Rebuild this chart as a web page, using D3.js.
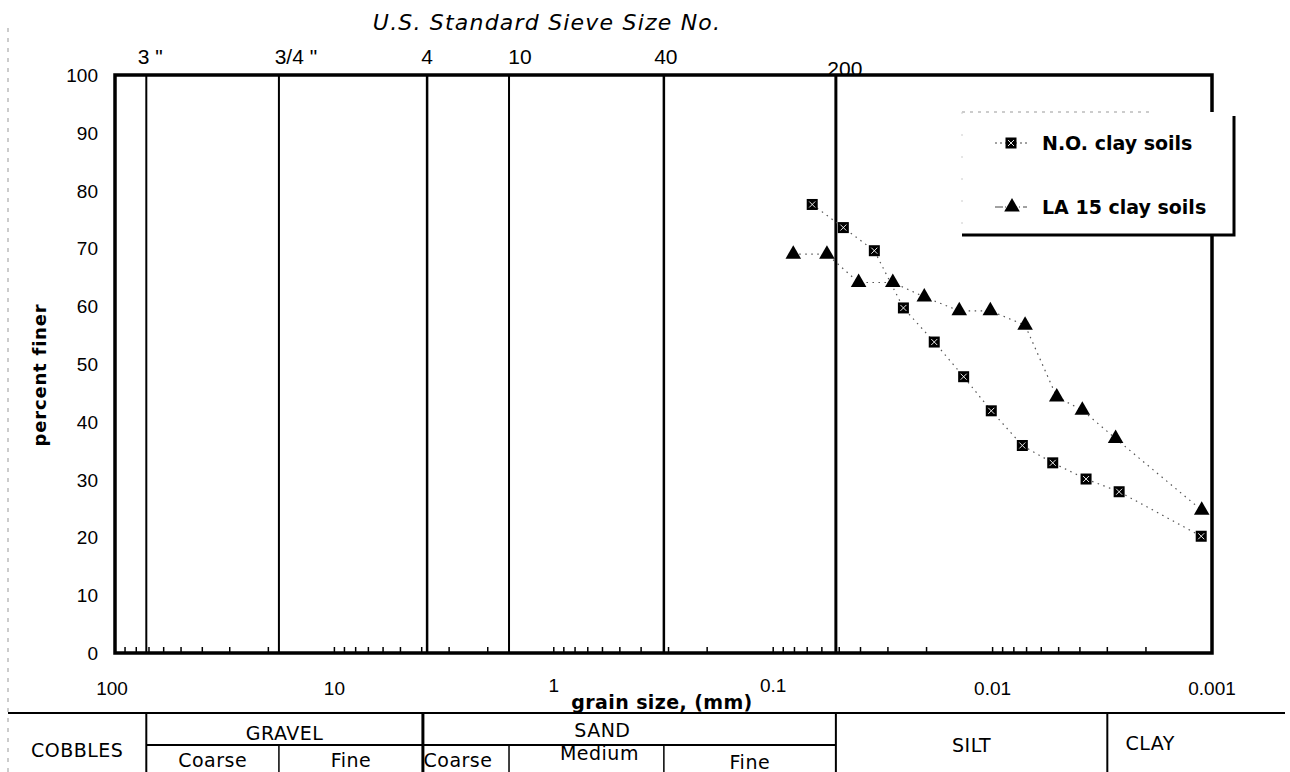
<!DOCTYPE html>
<html><head><meta charset="utf-8">
<script src="https://cdn.jsdelivr.net/npm/d3@7"></script>
<style>body{margin:0;background:#fff}svg{display:block}</style>
</head><body>
<svg id="chart" width="1290" height="772"></svg>
<script>
// ---------- data ----------
const seriesNames = ["N.O. clay soils", "LA 15 clay soils"];
const noSize   = [0.0664, 0.0479, 0.0346, 0.0255, 0.01845, 0.01355, 0.01014, 0.00732, 0.00532, 0.00375, 0.00265, 0.00112];
const noFiner  = [77.6, 73.6, 69.6, 59.7, 53.8, 47.8, 41.9, 35.9, 32.9, 30.1, 27.9, 20.2];
const laSize   = [0.0810, 0.0569, 0.0408, 0.0285, 0.02048, 0.01419, 0.01024, 0.00711, 0.00510, 0.00390, 0.00275, 0.001114];
const laFiner  = [69.0, 69.0, 64.1, 64.1, 61.6, 59.2, 59.2, 56.7, 44.3, 42.0, 37.1, 24.7];
const xTickValues = [100, 10, 1, 0.1, 0.01, 0.001];
const xTickLabels = ["100", "10", "1", "0.1", "0.01", "0.001"];
const yTickValues = [0, 10, 20, 30, 40, 50, 60, 70, 80, 90, 100];
const sieveLabels = ['3 "', '3/4 "', "4", "10", "40", "200"];
const sieveSizes  = [72, 17.9, 3.78, 1.6, 0.315, 0.0518];
const zoneNames   = ["COBBLES", "GRAVEL", "SAND", "SILT", "CLAY"];
const zoneBounds  = [72, 3.95, 0.0518, 0.003];          // boundaries between main zones (mm)
const gravelSub   = ["Coarse", "Fine"];
const gravelBounds= [72, 17.9, 3.95];
const sandSub     = ["Coarse", "Medium", "Fine"];
const sandBounds  = [3.95, 1.6, 0.315, 0.0518];

// ---------- layout ----------
const W = 1290, H = 772;
const L = 115, R = 1212, T = 75, B = 653;
const FONT = "'DejaVu Sans', sans-serif";
const NUM = "'Liberation Sans', Arial, sans-serif";
const svg = d3.select("#chart");

const x = d3.scaleLog().domain([100, 0.001]).range([L, R]);
const y = d3.scaleLinear().domain([0, 100]).range([B, T]);

// page-edge dashed artifact
svg.append("line").attr("x1", 8).attr("x2", 8).attr("y1", 28).attr("y2", H)
  .attr("stroke", "#999").attr("stroke-width", 1).attr("stroke-dasharray", "4,6");

// title
svg.append("text").attr("x", 547).attr("y", 30).attr("text-anchor", "middle")
  .style("font-family", FONT).style("font-style", "italic").style("font-size", "22px")
  .style("letter-spacing", "1.2px")
  .text("U.S. Standard Sieve Size No.");

// minor ticks along bottom (inside)
const minorTicks = x.ticks(60);
svg.append("g").selectAll("line").data(minorTicks).join("line")
  .attr("x1", d => x(d)).attr("x2", d => x(d))
  .attr("y1", B).attr("y2", B - 6)
  .attr("stroke", "#000").attr("stroke-width", 1.5);

// sieve lines
const sieveW = [2, 2, 2.5, 2, 2.5, 3];
svg.append("g").selectAll("line").data(sieveSizes).join("line")
  .attr("x1", d => x(d)).attr("x2", d => x(d))
  .attr("y1", T).attr("y2", B)
  .attr("stroke", "#000").attr("stroke-width", (d, i) => sieveW[i]);

// frame
svg.append("rect").attr("x", L).attr("y", T).attr("width", R - L).attr("height", B - T)
  .attr("fill", "none").attr("stroke", "#000").attr("stroke-width", 3.5);

// sieve labels
const sieveDx = [4, 17, 0, 11, 2, 9];
const sieveY  = [64, 64, 64, 64, 64, 76];
svg.append("g").selectAll("text").data(sieveLabels).join("text")
  .attr("x", (d, i) => x(sieveSizes[i]) + sieveDx[i])
  .attr("y", (d, i) => sieveY[i])
  .attr("text-anchor", "middle")
  .style("font-family", NUM).style("font-size", "21px")
  .text(d => d);

// y tick labels
svg.append("g").selectAll("text").data(yTickValues).join("text")
  .attr("x", 98).attr("y", d => y(d) + 7)
  .attr("text-anchor", "end")
  .style("font-family", NUM).style("font-size", "19px")
  .text(d => d);

// y axis title
svg.append("text").attr("transform", "translate(46,375) rotate(-90)")
  .attr("text-anchor", "middle")
  .style("font-family", FONT).style("font-weight", "bold").style("font-size", "18px")
  .style("letter-spacing", "0.8px")
  .text("percent finer");

// x tick labels
const xDy = [0, 0, -3, -3, 0, 0];
svg.append("g").selectAll("text").data(xTickValues).join("text")
  .attr("x", (d, i) => x(d) + (i === 0 ? -3 : 0))
  .attr("y", (d, i) => 695 + xDy[i])
  .attr("text-anchor", "middle")
  .style("font-family", NUM).style("font-size", "19px")
  .text((d, i) => xTickLabels[i]);

svg.append("text").attr("x", 662).attr("y", 709).attr("text-anchor", "middle")
  .style("font-family", FONT).style("font-weight", "bold").style("font-size", "19px")
  .style("letter-spacing", "0.4px")
  .text("grain size, (mm)");

// ---------- series ----------
const noData = noSize.map((d, i) => ({ s: d, p: noFiner[i] }));
const laData = laSize.map((d, i) => ({ s: d, p: laFiner[i] }));
const line = d3.line().x(d => x(d.s)).y(d => y(d.p));

[noData, laData].forEach(data => {
  svg.append("path").datum(data).attr("d", line)
    .attr("fill", "none").attr("stroke", "#555").attr("stroke-width", 1.2)
    .attr("stroke-dasharray", "1.5,4.5");
});

function drawSquare(g, cx, cy) {
  g.append("rect").attr("x", cx - 5.5).attr("y", cy - 5.5).attr("width", 11).attr("height", 11).attr("fill", "#000");
  g.append("path").attr("d", `M${cx-3},${cy-3}L${cx+3},${cy+3}M${cx+3},${cy-3}L${cx-3},${cy+3}`)
    .attr("stroke", "#fff").attr("stroke-width", 0.9);
}
const tri = d3.symbol().type(d3.symbolTriangle).size(105);
function drawTri(g, cx, cy) {
  g.append("path").attr("d", tri()).attr("transform", `translate(${cx},${cy})`).attr("fill", "#000");
}
const gm = svg.append("g");
noData.forEach(d => drawSquare(gm, x(d.s), y(d.p)));
laData.forEach(d => drawTri(gm, x(d.s), y(d.p)));

// ---------- legend ----------
const lg = svg.append("g");
lg.append("rect").attr("x", 962).attr("y", 112).attr("width", 272).attr("height", 123).attr("fill", "#fff");
lg.append("path").attr("d", "M962,112H1150").attr("stroke", "#999").attr("stroke-width", 1).attr("stroke-dasharray", "3,5");
lg.append("path").attr("d", "M962,112V235").attr("stroke", "#ccc").attr("stroke-width", 1).attr("stroke-dasharray", "2,20");
lg.append("path").attr("d", "M962,235H1234V116").attr("fill", "none").attr("stroke", "#000").attr("stroke-width", 3);
const legendY = [143, 207];
seriesNames.forEach((name, i) => {
  lg.append("line").attr("x1", 995).attr("x2", 1027).attr("y1", legendY[i]).attr("y2", legendY[i])
    .attr("stroke", "#444").attr("stroke-width", 1).attr("stroke-dasharray", i ? "8,2,1,3" : "2,3");
  if (i === 0) drawSquare(lg, 1011, legendY[i]); else drawTri(lg, 1012, legendY[i]);
  lg.append("text").attr("x", 1042).attr("y", legendY[i] + 7)
    .style("font-family", FONT).style("font-weight", "bold").style("font-size", "19px")
    .text(name);
});

// ---------- soil classification table ----------
const tY0 = 713, tY1 = 745, tY2 = H;
const tb = svg.append("g").attr("stroke", "#000").attr("fill", "none");
tb.append("line").attr("x1", 8).attr("x2", 1285).attr("y1", tY0).attr("y2", tY0).attr("stroke-width", 2);
tb.append("line").attr("x1", x(gravelBounds[0])).attr("x2", x(sandBounds[3])).attr("y1", tY1).attr("y2", tY1).attr("stroke-width", 2);
zoneBounds.forEach((b, i) => {
  tb.append("line").attr("x1", x(b)).attr("x2", x(b)).attr("y1", tY0).attr("y2", tY2)
    .attr("stroke-width", i === 1 ? 3 : 2);
});
[gravelBounds[1], sandBounds[1], sandBounds[2]].forEach(b => {
  tb.append("line").attr("x1", x(b)).attr("x2", x(b)).attr("y1", tY1).attr("y2", tY2).attr("stroke-width", 1.5);
});

const tt = svg.append("g").style("font-family", FONT).style("font-size", "19px")
  .style("letter-spacing", "0.5px").attr("text-anchor", "middle");
const zoneLeft = [8, x(zoneBounds[0]), x(zoneBounds[1]), x(zoneBounds[2]), x(zoneBounds[3])];
const zoneRight = [x(zoneBounds[0]), x(zoneBounds[1]), x(zoneBounds[2]), x(zoneBounds[3]), 1193];
const zoneDx = [0, 0, -27, 0, 0];
const zoneY = [757, 740, 737, 752, 750];
zoneNames.forEach((n, i) => {
  tt.append("text").attr("x", (zoneLeft[i] + zoneRight[i]) / 2 + zoneDx[i]).attr("y", zoneY[i]).text(n);
});
gravelSub.forEach((n, i) => {
  tt.append("text").attr("x", (x(gravelBounds[i]) + x(gravelBounds[i + 1])) / 2).attr("y", 767).text(n);
});
const sandDx = [-8, 13, 0];
const sandY = [767, 760, 769];
sandSub.forEach((n, i) => {
  tt.append("text").attr("x", (x(sandBounds[i]) + x(sandBounds[i + 1])) / 2 + sandDx[i]).attr("y", sandY[i]).text(n);
});
</script>
</body></html>
